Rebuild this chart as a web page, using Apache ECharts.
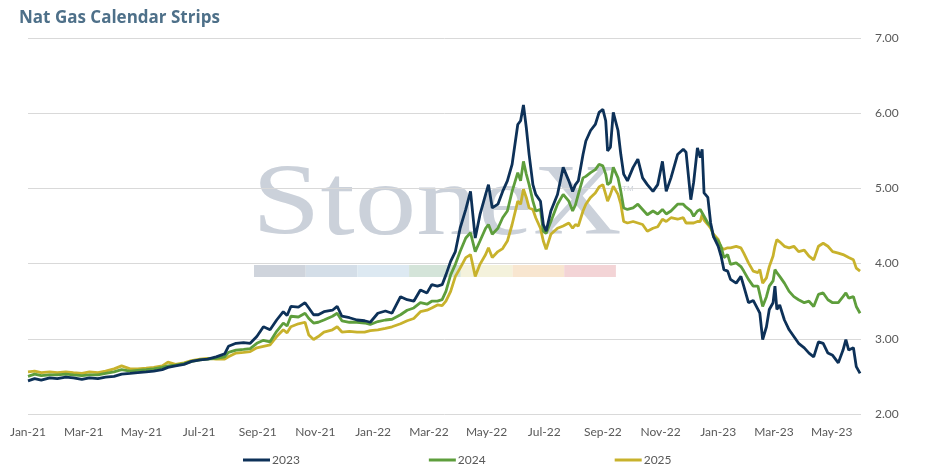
<!DOCTYPE html>
<html>
<head>
<meta charset="utf-8">
<title>Nat Gas Calendar Strips</title>
<script src="https://cdn.jsdelivr.net/npm/echarts@6/dist/echarts.min.js"></script>
<style>
  html, body { margin: 0; padding: 0; background: #fff; }
  #chart { width: 925px; height: 476px; }
</style>
</head>
<body>
<div id="chart"></div>
<script>
// strip settlement dates (roughly every few trading days)
var dates = [
  '2021-01-01','2021-01-08','2021-01-15','2021-01-24','2021-02-01','2021-02-10','2021-02-18','2021-02-27',
  '2021-03-07','2021-03-16','2021-03-24','2021-04-02','2021-04-10','2021-04-19','2021-04-27','2021-05-06',
  '2021-05-14','2021-05-23','2021-05-29','2021-06-06','2021-06-15','2021-06-23','2021-07-02','2021-07-10',
  '2021-07-19','2021-07-28','2021-08-01','2021-08-09','2021-08-17','2021-08-24','2021-08-31','2021-09-07',
  '2021-09-14','2021-09-21','2021-09-28','2021-10-02','2021-10-06','2021-10-14','2021-10-21','2021-10-25',
  '2021-10-30','2021-11-04','2021-11-10','2021-11-19','2021-11-24','2021-11-29','2021-12-07','2021-12-15',
  '2021-12-23','2021-12-29','2022-01-06','2022-01-14','2022-01-21','2022-01-30','2022-02-06','2022-02-13',
  '2022-02-20','2022-02-27','2022-03-04','2022-03-10','2022-03-15','2022-03-19','2022-03-24','2022-03-29',
  '2022-04-03','2022-04-09','2022-04-14','2022-04-19','2022-04-24','2022-04-30','2022-05-03','2022-05-07',
  '2022-05-13','2022-05-18','2022-05-23','2022-05-28','2022-06-03','2022-06-06','2022-06-09','2022-06-12',
  '2022-06-15','2022-06-19','2022-06-22','2022-06-27','2022-06-30','2022-07-03','2022-07-08','2022-07-15',
  '2022-07-21','2022-07-27','2022-07-31','2022-08-03','2022-08-06','2022-08-11','2022-08-14','2022-08-19',
  '2022-08-24','2022-08-28','2022-09-01','2022-09-04','2022-09-06','2022-09-09','2022-09-12','2022-09-17',
  '2022-09-20','2022-09-23','2022-09-27','2022-10-03','2022-10-08','2022-10-13','2022-10-18','2022-10-24',
  '2022-10-29','2022-11-03','2022-11-07','2022-11-12','2022-11-19','2022-11-25','2022-11-28','2022-12-03',
  '2022-12-06','2022-12-10','2022-12-13','2022-12-15','2022-12-17','2022-12-21','2022-12-24','2022-12-27',
  '2023-01-01','2023-01-04','2023-01-07','2023-01-11','2023-01-14','2023-01-20','2023-01-25','2023-01-28',
  '2023-02-02','2023-02-07','2023-02-12','2023-02-14','2023-02-17','2023-02-21','2023-02-24','2023-02-28',
  '2023-03-02','2023-03-04','2023-03-07','2023-03-12','2023-03-17','2023-03-22','2023-03-27','2023-04-02',
  '2023-04-07','2023-04-12','2023-04-17','2023-04-22','2023-04-27','2023-05-02','2023-05-08','2023-05-13',
  '2023-05-16','2023-05-19','2023-05-24','2023-05-27','2023-05-31'
];

var strip2023 = [
  2.44,2.47,2.45,2.48,2.47,2.49,2.48,2.46,
  2.48,2.47,2.49,2.50,2.53,2.54,2.55,2.56,
  2.57,2.59,2.62,2.64,2.66,2.70,2.72,2.73,
  2.76,2.80,2.90,2.94,2.95,2.94,3.03,3.16,
  3.12,3.25,3.36,3.31,3.43,3.42,3.48,3.41,
  3.32,3.32,3.36,3.38,3.43,3.30,3.28,3.25,
  3.24,3.22,3.34,3.37,3.34,3.56,3.52,3.50,
  3.65,3.61,3.72,3.70,3.72,3.85,4.03,4.16,
  4.47,4.72,4.96,4.34,4.65,4.92,5.05,4.74,
  4.79,4.96,5.10,5.32,5.85,5.90,6.11,5.81,
  5.45,5.05,4.92,4.83,4.52,4.43,4.70,4.92,
  5.28,5.10,4.96,5.05,5.10,5.45,5.63,5.77,
  5.85,6.01,6.05,5.90,5.50,5.55,6.01,5.77,
  5.45,5.19,5.10,5.28,5.39,5.14,5.05,4.96,
  5.05,5.36,4.96,5.14,5.45,5.52,5.48,4.85,
  5.08,5.54,5.41,5.52,4.94,4.88,4.54,4.36,
  4.23,4.10,3.92,3.90,3.79,3.74,3.83,3.70,
  3.48,3.51,3.39,3.34,2.99,3.16,3.39,3.48,
  3.70,3.39,3.45,3.25,3.12,3.03,2.94,2.88,
  2.81,2.76,2.96,2.94,2.81,2.78,2.68,2.85,
  2.99,2.85,2.88,2.63,2.54
];

var strip2024 = [
  2.50,2.53,2.51,2.52,2.52,2.53,2.52,2.51,
  2.52,2.52,2.54,2.56,2.59,2.57,2.58,2.59,
  2.60,2.62,2.64,2.65,2.67,2.70,2.72,2.73,
  2.74,2.76,2.82,2.85,2.86,2.87,2.94,2.98,
  2.96,3.10,3.21,3.17,3.30,3.29,3.34,3.27,
  3.21,3.22,3.25,3.30,3.34,3.24,3.22,3.22,
  3.21,3.19,3.23,3.25,3.26,3.32,3.38,3.41,
  3.48,3.46,3.50,3.50,3.52,3.63,3.85,3.99,
  4.16,4.34,4.41,4.16,4.30,4.47,4.52,4.39,
  4.47,4.61,4.70,4.96,5.21,5.10,5.36,5.19,
  5.05,4.83,4.70,4.72,4.43,4.40,4.56,4.79,
  4.92,4.83,4.70,4.78,4.92,5.14,5.16,5.21,
  5.25,5.32,5.30,5.19,5.05,5.08,5.28,5.14,
  4.96,4.74,4.72,4.74,4.79,4.72,4.65,4.70,
  4.66,4.72,4.66,4.70,4.79,4.79,4.75,4.70,
  4.63,4.70,4.72,4.74,4.63,4.54,4.50,4.36,
  4.30,4.23,4.08,4.12,3.99,4.01,3.96,3.90,
  3.79,3.70,3.70,3.72,3.43,3.56,3.70,3.77,
  3.92,3.88,3.83,3.74,3.63,3.56,3.52,3.48,
  3.50,3.43,3.59,3.61,3.52,3.48,3.48,3.56,
  3.61,3.54,3.56,3.43,3.34
];

var strip2025 = [
  2.56,2.57,2.55,2.56,2.55,2.56,2.55,2.54,
  2.56,2.55,2.57,2.60,2.64,2.60,2.60,2.61,
  2.62,2.64,2.69,2.66,2.68,2.71,2.73,2.74,
  2.73,2.73,2.76,2.81,2.82,2.83,2.88,2.90,
  2.92,3.03,3.12,3.08,3.16,3.20,3.22,3.05,
  2.99,3.03,3.09,3.12,3.16,3.09,3.10,3.09,
  3.09,3.11,3.12,3.14,3.16,3.20,3.24,3.27,
  3.36,3.38,3.41,3.45,3.44,3.50,3.63,3.83,
  3.94,4.08,4.12,3.83,3.99,4.12,4.21,4.08,
  4.16,4.20,4.30,4.52,4.83,4.79,4.99,4.88,
  4.74,4.72,4.61,4.47,4.30,4.19,4.39,4.47,
  4.50,4.54,4.47,4.52,4.50,4.70,4.79,4.88,
  4.94,5.02,5.05,4.92,4.83,4.92,5.03,4.92,
  4.79,4.56,4.54,4.56,4.54,4.52,4.43,4.47,
  4.49,4.59,4.56,4.61,4.59,4.61,4.54,4.54,
  4.54,4.56,4.56,4.65,4.58,4.52,4.47,4.39,
  4.32,4.21,4.19,4.21,4.21,4.23,4.21,4.14,
  4.01,3.90,3.88,3.92,3.74,3.81,3.96,4.10,
  4.23,4.32,4.29,4.23,4.21,4.23,4.16,4.18,
  4.10,4.05,4.23,4.27,4.23,4.16,4.14,4.12,
  4.10,4.08,4.05,3.94,3.90
];

var seriesNames = ['2023', '2024', '2025'];
var seriesColors = ['#0d3158', '#5e9e3c', '#c8b22c'];
var monthNames = ['Jan','Feb','Mar','Apr','May','Jun','Jul','Aug','Sep','Oct','Nov','Dec'];

function toTime(s) {
  var p = s.split('-');
  return new Date(+p[0], +p[1] - 1, +p[2]).getTime();
}

function pairUp(values) {
  var out = [];
  for (var i = 0; i < dates.length; i++) {
    out.push([toTime(dates[i]), values[i]]);
  }
  return out;
}

// x labels every second month from Jan-21 to May-23
var labelTicks = [];
for (var m = 0; m <= 28; m += 2) {
  labelTicks.push(new Date(2021, m, 1).getTime());
}

var watermarkColors = ['#cfd4dc', '#d4dee8', '#dde9f2', '#d4e4d9', '#f4f2dc', '#f8e6d0', '#f3d4d6'];
var watermark = [{
  type: 'text',
  left: 252, top: 157, z: -10, silent: true,
  scaleX: 1.22,
  style: { text: 'StoneX', fill: '#cbd1da', font: '101px "Liberation Serif"' }
}, {
  type: 'text',
  left: 622, top: 185, z: -10, silent: true,
  style: { text: 'TM', fill: '#cdd3db', font: '8px "Liberation Sans"' }
}];
for (var k = 0; k < watermarkColors.length; k++) {
  watermark.push({
    type: 'rect', z: -10, silent: true,
    shape: { x: 254 + k * 51.7, y: 265, width: 51.7, height: 12 },
    style: { fill: watermarkColors[k] }
  });
}

var myChart = echarts.init(document.getElementById('chart'), null, { renderer: 'canvas' });
var option = {
  animation: false,
  backgroundColor: '#ffffff',
  title: {
    text: 'Nat Gas Calendar Strips',
    left: 14, top: 5,
    textStyle: { fontFamily: 'Open Sans', fontSize: 17, fontWeight: 'bold', color: '#4e7089' }
  },
  graphic: watermark,
  legend: {
    data: seriesNames.map(function (n) { return { name: n, icon: 'rect' }; }),
    left: 238, top: 449,
    itemWidth: 27, itemHeight: 3, itemGap: 129,
    textStyle: { fontFamily: 'Lato', fontSize: 12, color: '#595959', padding: [0, 0, 0, -3] }
  },
  grid: { left: 28, right: 64, top: 38, bottom: 62 },
  xAxis: {
    type: 'value',
    min: toTime('2021-01-01'),
    max: toTime('2023-06-01'),
    axisLine: { show: false },
    axisTick: { show: false },
    splitLine: { show: false },
    axisLabel: {
      customValues: labelTicks,
      margin: 12,
      fontFamily: 'Lato', fontSize: 12, color: '#595959',
      formatter: function (val) {
        var d = new Date(val);
        return monthNames[d.getMonth()] + '-' + String(d.getFullYear()).slice(2);
      }
    }
  },
  yAxis: {
    type: 'value',
    position: 'right',
    min: 2, max: 7, interval: 1,
    axisLine: { show: false },
    axisTick: { show: false },
    splitLine: { lineStyle: { color: '#d9d9d9', width: 1 } },
    axisLabel: {
      margin: 14,
      fontFamily: 'Lato', fontSize: 12, color: '#595959',
      formatter: function (v) { return v.toFixed(2); }
    }
  },
  series: [strip2023, strip2024, strip2025].map(function (vals, i) {
    return {
      name: seriesNames[i],
      type: 'line',
      data: pairUp(vals),
      showSymbol: false,
      symbol: 'none',
      color: seriesColors[i],
      lineStyle: { width: 2.8, color: seriesColors[i] },
      z: 5 - i
    };
  })
};
myChart.setOption(option);
</script>
</body>
</html>
